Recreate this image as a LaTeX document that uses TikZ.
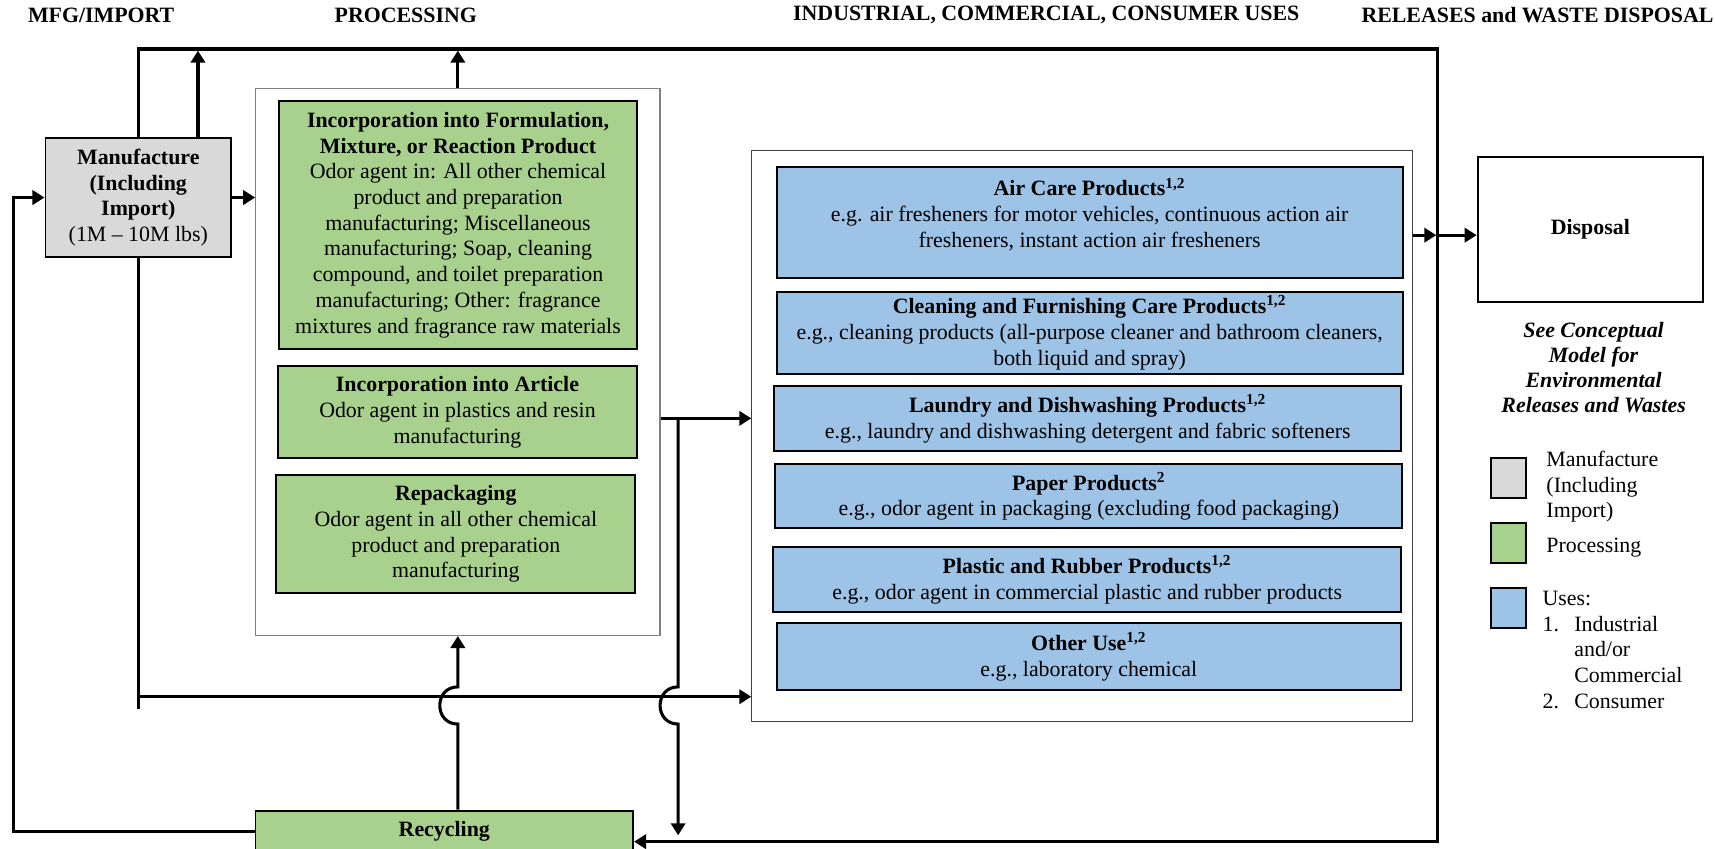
\documentclass[tikz,border=0pt]{standalone}
\usepackage{fontspec}
\setmainfont{Liberation Serif}
\usetikzlibrary{arrows.meta,calc}

\definecolor{mfggray}{HTML}{D9D9D9}
\definecolor{procgreen}{HTML}{A9D18E}
\definecolor{useblue}{HTML}{9DC3E6}

% \placebox{name}{style}{x1}{y1}{x2}{y2}{text}: a box given by its corners
\newcommand\placebox[7]{%
  \node[#2, minimum width={(#5-#3)*0.5pt}, minimum height={(#6-#4)*0.5pt}]
    (#1) at ({(#3+#5)/2},{(#4+#6)/2}) {#7};}

\begin{document}
\begin{tikzpicture}[x=0.5pt,y=-0.5pt,
  font=\fontsize{10}{11.75}\selectfont,
  box/.style={draw=black, line width=0.9pt, inner sep=0pt, align=center},
  frame/.style={draw=black!50, line width=0.5pt, inner sep=0pt},
  flow/.style={line width=1.4pt, line join=miter},
  arr/.style={flow, -{Triangle[length=5.5pt,width=6.5pt]}},
  hdr/.style={font=\fontsize{10}{11.75}\selectfont\bfseries, inner sep=0pt},
  txt/.style={align=center, inner sep=0pt},
  legtxt/.style={align=left, anchor=west, inner sep=0pt},
  ]
\useasboundingbox (0,0) rectangle (1568,776);
\clip (0,0) rectangle (1568,776);

% column headings
\node[hdr] (hMfg)  at (92.5,14)  {MFG/IMPORT};
\node[hdr] (hProc) at (371,14)   {PROCESSING};
\node[hdr] (hUse)  at (956.6,14) {INDUSTRIAL, COMMERCIAL, CONSUMER USES};
\node[hdr] (hRel)  at (1405.7,14){RELEASES and WASTE DISPOSAL};

% manufacture
\placebox{mfg}{box,fill=mfggray}{41.6}{126.5}{211.3}{234.7}
  {\textbf{Manufacture}\\\textbf{(Including}\\\textbf{Import)}\\(1M -- 10M lbs)}

% processing
\placebox{proc}{frame}{233.8}{80.8}{603.4}{581}{}
\placebox{form}{box,fill=procgreen}{255}{92}{582.5}{319.4}
  {\textbf{Incorporation into Formulation,}\\\textbf{Mixture, or Reaction Product}\\
   Odor agent in: All other chemical\\product and preparation\\
   manufacturing; Miscellaneous\\manufacturing; Soap, cleaning\\
   compound, and toilet preparation\\manufacturing; Other: fragrance\\
   mixtures and fragrance raw materials}
\placebox{article}{box,fill=procgreen}{254}{334.6}{582.5}{419}
  {\textbf{Incorporation into Article}\\Odor agent in plastics and resin\\manufacturing}
\placebox{repack}{box,fill=procgreen}{252.5}{434.3}{581}{542}
  {\textbf{Repackaging}\\Odor agent in all other chemical\\product and preparation\\manufacturing}

% recycling
\placebox{rec}{box,fill=procgreen}{233.6}{741.2}{578.8}{779}{\textbf{Recycling}}

% uses
\placebox{uses}{frame,draw=black!75}{687.4}{137.8}{1291}{660}{}
\placebox{air}{box,fill=useblue}{710}{152.4}{1282.5}{254.5}{}
\node[txt] (airT) at ($(air.center)+(0,-7.5)$)
  {\textbf{Air Care Products\textsuperscript{1,2}}\\
   e.g. air fresheners for motor vehicles, continuous action air\\
   fresheners, instant action air fresheners};
\placebox{clean}{box,fill=useblue}{710}{266.7}{1282.5}{342}
  {\textbf{Cleaning and Furnishing Care Products\textsuperscript{1,2}}\\
   e.g., cleaning products (all-purpose cleaner and bathroom cleaners,\\
   both liquid and spray)}
\placebox{laundry}{box,fill=useblue}{708}{352.9}{1281}{412.4}
  {\textbf{Laundry and Dishwashing Products\textsuperscript{1,2}}\\
   e.g., laundry and dishwashing detergent and fabric softeners}
\placebox{paper}{box,fill=useblue}{709}{424.5}{1282}{483}
  {\textbf{Paper Products\textsuperscript{2}}\\
   e.g., odor agent in packaging (excluding food packaging)}
\placebox{plastic}{box,fill=useblue}{707}{499.8}{1281}{559.8}
  {\textbf{Plastic and Rubber Products\textsuperscript{1,2}}\\
   e.g., odor agent in commercial plastic and rubber products}
\placebox{other}{box,fill=useblue}{710}{570}{1281}{631}
  {\textbf{Other Use\textsuperscript{1,2}}\\e.g., laboratory chemical}

% disposal
\placebox{disp}{box,fill=white}{1351}{143.2}{1557}{275.8}{\textbf{Disposal}}
\node[txt, font=\fontsize{10}{11.5}\selectfont\bfseries\itshape] (seeCM) at (1457,336)
  {See Conceptual\\Model for\\Environmental\\Releases and Wastes};

% legend
\placebox{lgGray}{box,fill=mfggray}{1363}{419}{1395}{455}{}
\placebox{lgGreen}{box,fill=procgreen}{1363}{478}{1395}{515}{}
\placebox{lgBlue}{box,fill=useblue}{1363}{537.6}{1395}{574}{}
\node[legtxt] (lgGrayT)  at (1413.5,445) {Manufacture\\(Including\\Import)};
\node[legtxt] (lgGreenT) at (1413.5,501) {Processing};
\node[legtxt] (lgBlueT)  at (1410,594.2)
  {Uses:\\\makebox[14.5pt][l]{1.}Industrial\\\hspace*{14.5pt}and/or\\
   \hspace*{14.5pt}Commercial\\\makebox[14.5pt][l]{2.}Consumer};

% routing points
\coordinate (topR)  at (1314.6,44.8);
\coordinate (botR)  at (1314.6,769.5);
\coordinate (upA)   at (181,46.3);
\coordinate (feedL) at (12,0);
\coordinate (mid)   at (0,637);
\coordinate (split) at (620,382.5);
\coordinate (hopTop) at (0,628);
\coordinate (hopBot) at (0,662);
\coordinate (dispY) at (0,215);

% connectors
\draw[arr] (mfg.north) -- (mfg.north |- topR) -- (topR) -- (botR) -- (botR -| rec.east);
\draw[arr] (upA |- mfg.north) -- (upA);
\draw[arr] (proc.north) -- (proc.north |- upA);
\draw[arr] (mfg.east) -- (mfg.east -| proc.west);
\draw[arr] (rec.west) -| (feedL |- mfg.west) -- (mfg.west);
\draw[flow] (mfg.south) -- ++(0,413);
\draw[arr] (mfg.south |- mid) -- (uses.west |- mid);
\draw[arr] (proc.east |- split) -- (uses.west |- split);
\draw[arr] (split) -- (split |- hopTop)
  .. controls ($(split |- hopTop)+(-22,0)$) and ($(split |- hopBot)+(-22,0)$) .. (split |- hopBot)
  -- ([yshift=2.9pt]split |- botR);
\draw[arr] (proc.south |- rec.north) -- (proc.south |- hopBot)
  .. controls ($(proc.south |- hopBot)+(-22,0)$) and ($(proc.south |- hopTop)+(-22,0)$) .. (proc.south |- hopTop)
  -- (proc.south);
\draw[arr] (uses.east |- dispY) -- ([xshift=-0.7pt]topR |- dispY);
\draw[arr] (topR |- dispY) -- (disp.west |- dispY);
\end{tikzpicture}
\end{document}
